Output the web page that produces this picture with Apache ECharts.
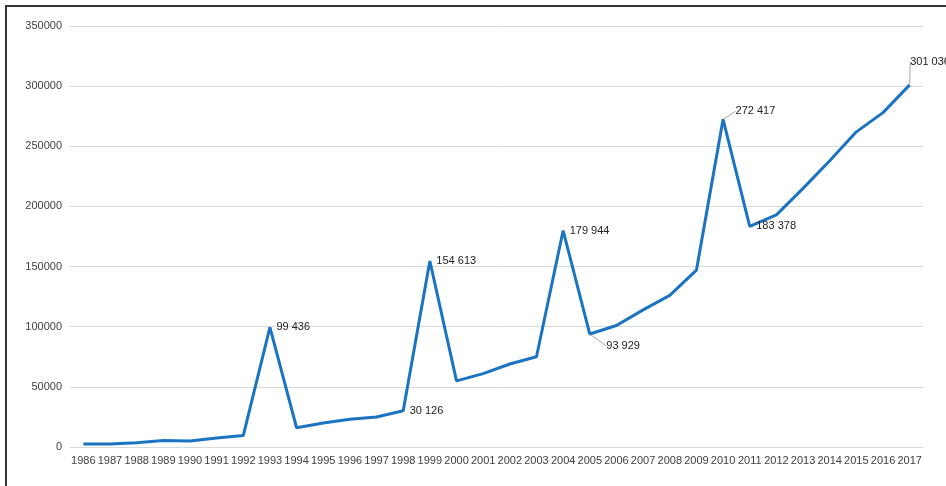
<!DOCTYPE html>
<html>
<head>
<meta charset="utf-8">
<script src="https://cdn.jsdelivr.net/npm/echarts@6/dist/echarts.min.js"></script>
<style>
  html, body { margin: 0; padding: 0; background: #fff; overflow: hidden; }
  .frame {
    position: absolute; left: 5px; top: 5px;
    width: 960px; height: 500px;
    border: 2px solid #333; box-sizing: border-box;
  }
  #chart { position: absolute; left: 0; top: 0; width: 946px; height: 486px; }
</style>
</head>
<body>
<div class="frame"></div>
<div id="chart"></div>
<script>
const YEARS = ['1986','1987','1988','1989','1990','1991','1992','1993','1994','1995','1996',
  '1997','1998','1999','2000','2001','2002','2003','2004','2005','2006','2007','2008','2009',
  '2010','2011','2012','2013','2014','2015','2016','2017']

const VALUES = [2500, 2500, 3500, 5500, 5000, 7500, 9500, 99436, 16000, 20000, 23000,
  25000, 30126, 154613, 55000, 61000, 69000, 75000, 179944, 93929, 101000, 114000, 126000, 147000,
  272417, 183378, 193000, 215000, 238000, 262000, 278000, 301036]

// years whose value gets a label
const LABELLED = ['1993', '1998', '1999', '2004', '2005', '2010', '2011', '2017']

// label shifts (px) for the ones that need a leader line
const LABEL_SHIFT = {
  '2005': [10, 12],
  '2010': [6, -8],
  '2017': [-6, -23],
}

const fmt = v => String(v).replace(/\B(?=(\d{3})+(?!\d))/g, ' ')

const seriesData = VALUES.map((v, i) => ({
  value: v,
  label: { show: LABELLED.includes(YEARS[i]) },
  labelLine: { show: YEARS[i] in LABEL_SHIFT },
}))

const FONT = 'Liberation Sans, Arial, sans-serif'

const chart = echarts.init(document.getElementById('chart'), null, { renderer: 'canvas' })

chart.setOption({
  animation: false,
  backgroundColor: 'transparent',
  grid: { left: 70, right: 23, top: 26, bottom: 39 },
  xAxis: {
    type: 'category',
    data: YEARS,
    boundaryGap: true,
    axisLine: { show: true, lineStyle: { color: '#d9d9d9', width: 1 } },
    axisTick: { show: false },
    axisLabel: { color: '#404040', fontFamily: FONT, fontSize: 11, interval: 0, margin: 8 },
  },
  yAxis: {
    type: 'value',
    min: 0,
    max: 350000,
    interval: 50000,
    axisLine: { show: false },
    axisTick: { show: false },
    axisLabel: {
      color: '#404040', fontFamily: FONT, fontSize: 11, margin: 8,
      formatter: v => String(v),
    },
    splitLine: { lineStyle: { color: '#d9d9d9', width: 1 } },
  },
  series: [
    {
      type: 'line',
      data: seriesData,
      symbol: 'circle',
      symbolSize: 1,
      showSymbol: true,
      lineStyle: { color: '#1a74c2', width: 3 },
      itemStyle: { color: 'rgba(0,0,0,0)' },
      label: {
        position: 'right',
        distance: 6,
        color: '#222',
        fontFamily: FONT,
        fontSize: 11,
        formatter: p => fmt(p.value),
      },
      labelLine: { lineStyle: { color: '#a6a6a6', width: 1 } },
      labelLayout: p => {
        const s = LABEL_SHIFT[YEARS[p.dataIndex]]
        return s ? { dx: s[0], dy: s[1] } : {}
      },
    },
  ],
})
</script>
</body>
</html>
